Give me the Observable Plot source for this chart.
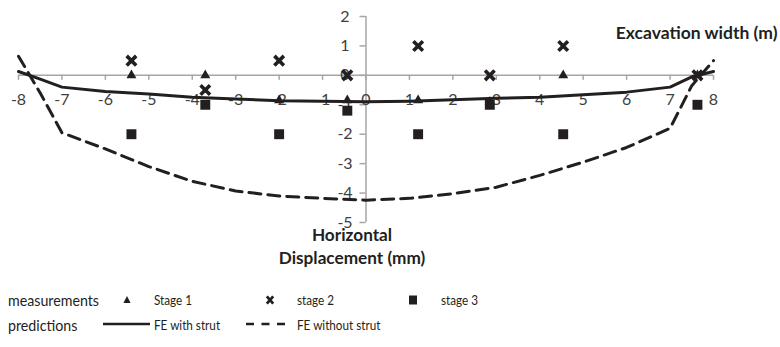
<!DOCTYPE html>
<html>
<head>
<meta charset="utf-8">
<script src="https://cdn.jsdelivr.net/npm/d3@7"></script>
<script src="https://cdn.jsdelivr.net/npm/@observablehq/plot@0.6"></script>
<style>
  html, body { margin: 0; padding: 0; background: #fff; }
  body { width: 780px; height: 347px; overflow: hidden; font-family: Lato, "Open Sans", sans-serif; color: #231f20; }
  #chart svg { display: block; }
  #legend { position: relative; width: 780px; height: 67px; }
  #legend .lbl { position: absolute; transform-origin: 0 50%; transform: translateY(-50%) scaleX(0.9); white-space: nowrap; line-height: 1; }
  #legend .row { font-size: 15.8px; }
  #legend .item { font-size: 13px; }
  #legend svg { position: absolute; overflow: visible; }
</style>
</head>
<body>
<div id="chart"></div>
<div id="legend"></div>
<script>
// Measurement stations across the excavation (m)
const stations = [-5.4, -3.7, -2.0, -0.43, 1.2, 2.85, 4.54, 7.63];
// Measured horizontal displacement (mm) per construction stage
const stage1 = [0, 0, -0.85, -0.85, -0.85, -0.9, 0, 0];
const stage2 = [0.5, -0.5, 0.5, 0, 1, 0, 1, 0];
const stage3 = [-2, -1, -2, -1.2, -2, -1, -2, -1];

// Finite element predictions (mm) along the excavation width (m)
const feX = [-8, -7.5, -7, -6, -5, -4, -3, -2, -1, 0, 1, 2, 3, 4, 5, 6, 7, 7.5, 8];
const feWithStrut = [0.13, -0.13, -0.4, -0.55, -0.63, -0.74, -0.8, -0.86, -0.88, -0.9, -0.88, -0.83, -0.78, -0.74, -0.66, -0.57, -0.4, -0.05, 0.13];
const feWithoutStrut = [0.65, -0.6, -1.95, -2.5, -3.1, -3.6, -3.93, -4.1, -4.18, -4.24, -4.18, -4.02, -3.8, -3.4, -2.95, -2.45, -1.8, -0.35, 0.5];

// Axis ticks
const xTicks = [-8, -7, -6, -5, -4, -3, -2, -1, 0, 1, 2, 3, 4, 5, 6, 7, 8];
const yTicks = [-5, -4, -3, -2, -1, 0, 1, 2];

const ink = "#231f20";
const axisGray = "#a6a6a6";

const measured = (ys) => stations.map((x, i) => ({x, y: ys[i]}));
const predicted = (ys) => feX.map((x, i) => ({x, y: ys[i]}));

const chart = Plot.plot({
  width: 780,
  height: 280,
  marginLeft: 18,
  marginRight: 67,
  marginTop: 16,
  marginBottom: 58,
  x: {domain: [-8, 8], axis: null},
  y: {domain: [-5, 2], axis: null},
  style: {fontFamily: "Lato, 'Open Sans', sans-serif", fontSize: "16px", color: ink, background: "#fff", overflow: "visible"},
  marks: [
    // axes crossing at the origin
    Plot.ruleY([0], {stroke: axisGray, strokeWidth: 1.5}),
    Plot.ruleX([0], {stroke: axisGray, strokeWidth: 1.5}),
    Plot.ruleX(xTicks, {x: d => d, y1: 0, y2: 0, insetBottom: -5, stroke: axisGray, strokeWidth: 1.5}),
    Plot.ruleY(yTicks, {y: d => d, x1: 0, x2: 0, insetLeft: -6, stroke: axisGray, strokeWidth: 1.5}),
    Plot.text(xTicks, {x: d => d, y: 0, dy: 25, text: d => String(d), fill: "#404040", fontSize: 16}),
    Plot.text(yTicks, {x: 0, y: d => d, dx: -21, text: d => String(d), fill: "#404040", fontSize: 16}),

    // axis titles
    Plot.text(["Excavation width (m)"], {frameAnchor: "top-right", dx: 64, dy: 17, textAnchor: "end", lineAnchor: "middle", fontWeight: "bold", fontSize: 17.5, fill: ink}),
    Plot.text(["Horizontal\nDisplacement (mm)"], {x: 0, y: -5, dx: -14, dy: 23, lineAnchor: "middle", lineHeight: 1.33, fontWeight: "bold", fontSize: 17.2, fill: ink}),

    // FE predictions
    Plot.line(predicted(feWithStrut), {x: "x", y: "y", stroke: ink, strokeWidth: 3, strokeLinejoin: "round"}),
    Plot.line(predicted(feWithoutStrut), {x: "x", y: "y", stroke: ink, strokeWidth: 3, strokeDasharray: "12,7"}),

    // measurements
    Plot.dot(measured(stage1), {x: "x", y: "y", symbol: "triangle", r: 3.7, fill: ink}),
    Plot.dot(measured(stage2), {x: "x", y: "y", symbol: "times", r: 4.4, stroke: ink, strokeWidth: 3.6}),
    Plot.dot(measured(stage3), {x: "x", y: "y", symbol: "square", r: 5.6, fill: ink})
  ]
});
document.getElementById("chart").append(chart);

// Legend below the plot
const legend = document.getElementById("legend");
const rows = [
  {label: "measurements", y: 20},
  {label: "predictions", y: 45}
];
const entries = [
  {row: 0, text: "Stage 1", tx: 154, sym: "triangle", sx: 127},
  {row: 0, text: "stage 2", tx: 297, sym: "times", sx: 270},
  {row: 0, text: "stage 3", tx: 441, sym: "square", sx: 413},
  {row: 1, text: "FE with strut", tx: 154, sym: "solid", sx: 103},
  {row: 1, text: "FE without strut", tx: 297, sym: "dashed", sx: 246}
];
const svgNS = "http://www.w3.org/2000/svg";
for (const r of rows) {
  const d = document.createElement("div");
  d.className = "lbl row";
  d.style.left = "8px";
  d.style.top = r.y + "px";
  d.textContent = r.label;
  legend.append(d);
}
for (const e of entries) {
  const y = rows[e.row].y;
  const t = document.createElement("div");
  t.className = "lbl item";
  t.style.left = e.tx + "px";
  t.style.top = y + "px";
  t.textContent = e.text;
  legend.append(t);
  const s = document.createElementNS(svgNS, "svg");
  s.setAttribute("width", 1);
  s.setAttribute("height", 1);
  s.style.left = "0px";
  s.style.top = "0px";
  let shape;
  if (e.sym === "triangle") {
    shape = document.createElementNS(svgNS, "path");
    shape.setAttribute("d", `M${e.sx},${y - 4}L${e.sx + 3.6},${y + 3}L${e.sx - 3.6},${y + 3}Z`);
    shape.setAttribute("fill", ink);
  } else if (e.sym === "times") {
    shape = document.createElementNS(svgNS, "path");
    shape.setAttribute("d", `M${e.sx - 3.2},${y - 3.6}L${e.sx + 3.2},${y + 3.6}M${e.sx - 3.2},${y + 3.6}L${e.sx + 3.2},${y - 3.6}`);
    shape.setAttribute("stroke", ink);
    shape.setAttribute("stroke-width", 2.8);
  } else if (e.sym === "square") {
    shape = document.createElementNS(svgNS, "rect");
    shape.setAttribute("x", e.sx - 4);
    shape.setAttribute("y", y - 4.5);
    shape.setAttribute("width", 8);
    shape.setAttribute("height", 9);
    shape.setAttribute("fill", ink);
  } else {
    shape = document.createElementNS(svgNS, "line");
    const len = e.sym === "solid" ? 47 : 39;
    shape.setAttribute("x1", e.sx);
    shape.setAttribute("x2", e.sx + len);
    shape.setAttribute("y1", y - 1);
    shape.setAttribute("y2", y - 1);
    shape.setAttribute("stroke", ink);
    shape.setAttribute("stroke-width", 2.6);
    if (e.sym === "dashed") shape.setAttribute("stroke-dasharray", "8,7.5");
  }
  s.append(shape);
  legend.append(s);
}
</script>
</body>
</html>
